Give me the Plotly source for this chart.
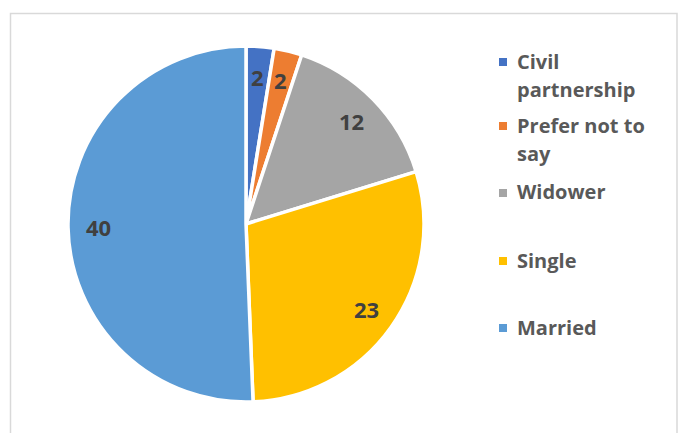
import math
import textwrap
import plotly.graph_objects as go

# Marital status breakdown
categories = ["Civil partnership", "Prefer not to say", "Widower", "Single", "Married"]
counts = [2, 2, 12, 23, 40]
colors = ["#4472C4", "#ED7D31", "#A5A5A5", "#FFC000", "#5B9BD5"]

W, H = 682, 433
CX, CY, R = 246, 224, 178          # pie centre and radius in pixels
LABEL_R = 0.83 * R                 # radius at which value labels sit

FONT = "Open Sans"
LABEL_COLOR = "#404040"
LEGEND_COLOR = "#595959"


def px(x):
    return x / W


def py(y):
    return 1 - y / H


fig = go.Figure(
    go.Pie(
        labels=categories,
        values=counts,
        sort=False,
        direction="clockwise",
        rotation=0,
        marker=dict(colors=colors, line=dict(color="white", width=3.5)),
        textinfo="none",
        hoverinfo="label+value",
        showlegend=False,
        domain=dict(x=[px(CX - R), px(CX + R)], y=[py(CY + R), py(CY - R)]),
    )
)

annotations = []

# value labels placed along each slice's bisector
total = sum(counts)
cum = 0
for v in counts:
    mid = (cum + v / 2) / total * 2 * math.pi
    cum += v
    lx = CX + LABEL_R * math.sin(mid)
    ly = CY - LABEL_R * math.cos(mid)
    annotations.append(
        dict(
            x=px(lx), y=py(ly), xref="paper", yref="paper",
            text=str(v), showarrow=False, xanchor="center", yanchor="middle",
            font=dict(family=FONT, size=22, color=LABEL_COLOR, weight="bold"),
        )
    )

# legend on the right: square swatch plus wrapped label
shapes = []
entry_tops = [61, 125, 192, 260, 327]
LINE_STEP = 28
SW = 8
for name, col, y0 in zip(categories, colors, entry_tops):
    shapes.append(
        dict(
            type="rect", xref="paper", yref="paper",
            x0=px(499), x1=px(499 + SW), y0=py(y0 + 1 + SW / 2), y1=py(y0 + 1 - SW / 2),
            fillcolor=col, line=dict(width=0),
        )
    )
    for i, line in enumerate(textwrap.wrap(name, 13)):
        annotations.append(
            dict(
                x=px(515), y=py(y0 + i * LINE_STEP), xref="paper", yref="paper",
                text=line, showarrow=False, xanchor="left", yanchor="middle",
                font=dict(family=FONT, size=20, color=LEGEND_COLOR, weight="bold"),
            )
        )

# chart area frame
shapes.append(
    dict(
        type="rect", xref="paper", yref="paper",
        x0=px(10.5), x1=px(677), y0=py(440), y1=py(13.5),
        line=dict(color="#D9D9D9", width=1.5), fillcolor="rgba(0,0,0,0)",
    )
)

fig.update_layout(
    width=W, height=H,
    margin=dict(l=0, r=0, t=0, b=0),
    paper_bgcolor="white",
    plot_bgcolor="white",
    annotations=annotations,
    shapes=shapes,
)

fig.write_html("out.html")
